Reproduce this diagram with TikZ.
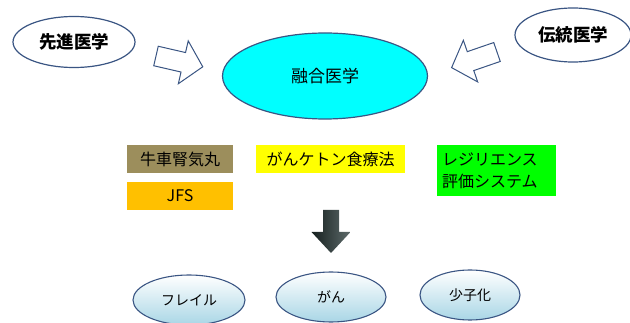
\documentclass[tikz,border=0pt]{standalone}
\usepackage{fontspec}
\setmainfont{Noto Sans CJK JP}
\usepackage{tikz}
\usetikzlibrary{shapes.geometric}

\definecolor{edgeblue}{HTML}{3A5583}
\definecolor{fusecyan}{HTML}{00FFFF}
\definecolor{olivebox}{HTML}{9C8E5C}
\definecolor{jfsorange}{HTML}{FFC000}
\definecolor{ketoyellow}{HTML}{FFFF00}
\definecolor{resgreen}{HTML}{00FF00}
\definecolor{paleblue}{HTML}{A9D6E6}
\definecolor{arrowdark}{HTML}{16201F}
\definecolor{arrowlight}{HTML}{5E6B6B}

\tikzset{
  medell/.style={ellipse, draw=edgeblue, line width=1.2pt, inner sep=0pt},
  hollowarrow/.style={draw=edgeblue, fill=white, line width=1pt, line join=miter},
  colbox/.style={rectangle, inner sep=0pt, font=\fontsize{16}{22}\selectfont},
  illell/.style={ellipse, draw=edgeblue, line width=1.1pt, inner sep=0pt,
    minimum width=110pt, minimum height=50pt, top color=white, bottom color=paleblue,
    font=\fontsize{14}{16}\selectfont}
}

\begin{document}
\begin{tikzpicture}[x=1pt,y=-1pt]
\useasboundingbox (0,0) rectangle (630,323);

% Sources of medicine
\node[medell, fill=white, minimum width=122pt, minimum height=51pt,
  font=\fontsize{17.5}{20}\selectfont\bfseries] (west) at (74,42) {先進医学};
\node[medell, fill=white, minimum width=116pt, minimum height=54pt,
  font=\fontsize{17.5}{20}\selectfont\bfseries] (east) at (573,35) {伝統医学};

% Integrated medicine
\node[medell, fill=fusecyan, minimum width=205pt, minimum height=86pt,
  font=\fontsize{17}{19}\selectfont] (fusion) at (325,76) {融合医学};

% Hollow arrows
\draw[hollowarrow, shift={(156,56)}, rotate=-13]
  (0,-10) -- (28,-10) -- (28,-22) -- (48,0) -- (28,22) -- (28,10) -- (0,10) -- cycle;
\draw[hollowarrow, shift={(497,52)}, rotate=199]
  (0,-10) -- (28,-10) -- (28,-22) -- (48,0) -- (28,22) -- (28,10) -- (0,10) -- cycle;

% Methods
\node[colbox, fill=olivebox, minimum width=106pt, minimum height=28pt] (goshajinki) at (180,159) {牛車腎気丸};
\node[colbox, fill=jfsorange, minimum width=106pt, minimum height=28pt] (jfs) at (180,196) {JFS};
\node[colbox, fill=ketoyellow, minimum width=149pt, minimum height=28pt] (keto) at (330.5,159) {がんケトン食療法};
\node[colbox, fill=resgreen, minimum width=119pt, minimum height=51pt,
  align=left, text width=109pt] (resil) at (496.5,170.5) {レジリエンス\\評価システム};

% Down arrow
\shade[left color=arrowdark, right color=arrowlight]
  (323,210) -- (339,210) -- (339,232) -- (350.5,232) -- (331,253) -- (311.5,232) -- (323,232) -- cycle;

% Targets
\node[illell, minimum width=112pt] (frail) at (189,300) {フレイル};
\node[illell] (cancer) at (331,297) {がん};
\node[illell, minimum width=100pt] (birth) at (470,295) {少子化};
\end{tikzpicture}
\end{document}
